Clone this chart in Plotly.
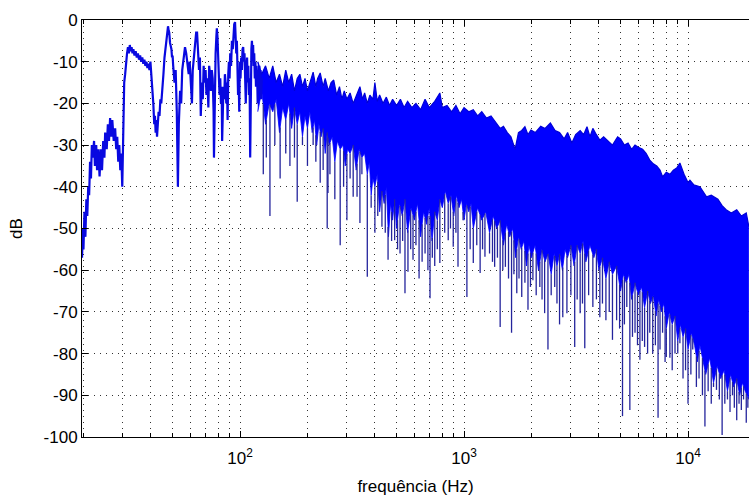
import numpy as np
import plotly.graph_objects as go

# ---------------- data ----------------
# low-frequency part of the spectrum (single trace path), Hz / dB
low_f = [19.7, 19.9, 20.0, 20.2, 20.4, 20.6, 20.8, 21.0, 21.2, 21.4, 21.6, 21.8, 22.0, 22.3, 22.5,
         22.8, 23.0, 23.3, 23.6, 23.9, 24.2, 24.5, 24.8, 25.0, 25.4, 25.7, 26.0, 26.3, 26.6, 26.9,
         27.3, 27.7, 28.0, 28.3, 28.6, 28.9, 29.2, 29.5, 29.8,
         30.0, 30.2, 30.4, 30.7, 31.0, 31.3, 31.6, 31.9, 32.2, 32.5, 32.8, 33.1, 33.4, 33.8, 34.2,
         34.6, 35.0, 35.4, 35.8, 36.2, 36.6, 37.0, 37.4, 37.8, 38.2, 38.6, 39.0, 39.4, 39.8, 40.2,
         40.6, 41.0, 41.4, 41.7, 42.0, 42.3, 42.6, 42.9, 43.3, 43.7, 44.1, 44.5, 45.0, 45.5, 46.0,
         46.5, 47.0, 47.4, 47.7, 48.0, 48.3, 48.7, 49.0, 49.4, 49.7, 50.0,
         50.3, 51.0, 51.6, 52.2, 52.8, 53.3, 54.0, 54.6, 55.2, 56.0, 56.8, 57.5, 58.2, 59.0, 59.6,
         60.3, 61.0, 61.5, 62.2, 63.0, 63.7, 64.3, 65.0, 65.6, 66.2, 66.8, 67.5, 68.2, 68.8, 69.5,
         70.2, 70.8, 71.5, 72.2, 72.8, 73.5, 74.2, 74.8, 75.5, 76.2, 76.5, 77.2, 77.8, 78.4, 78.8,
         79.3, 79.8, 80.4, 81.0, 81.6, 82.2, 82.8, 83.2, 83.8, 84.4, 85.0, 85.6, 86.2, 86.8, 87.4,
         88.0, 88.6, 89.2, 89.8, 90.4, 91.2, 92.0, 92.8, 93.5, 94.2, 95.0, 95.6, 96.2, 96.8, 97.4,
         98.0, 98.6, 99.2, 99.8, 100.5, 101.2, 101.9, 102.6, 103.3, 104.0, 104.7, 105.4, 106.1,
         106.8, 107.5, 108.2, 108.9, 109.6, 110.3, 111.0, 111.7, 112.4, 113.0, 113.7, 114.4, 115.0,
         115.7, 116.4, 117.1, 117.8, 118.5, 119.2, 119.9, 120.6, 121.3, 122.0, 122.7, 123.4, 124.2,
         125.0]
low_db = [-57, -50, -55, -46, -52, -43, -47, -40, -42, -34, -38, -30, -33, -29, -35,
          -30, -36, -31, -37.5, -31, -36, -29, -33, -27, -31, -25, -29, -23.5, -28, -24,
          -29, -26, -31, -28, -34, -30, -36, -32, -40,
          -31, -22, -15, -13, -10, -8, -6.5, -8, -6, -7.5, -6.5, -8, -7, -8.5, -7.5,
          -9, -8, -9.5, -8.5, -10, -9, -10.5, -9.5, -11, -10, -11.5, -10.5, -12, -10, -13,
          -17, -20, -25, -23, -27, -24, -28, -25, -22, -23, -19, -20, -15, -13, -9,
          -7, -4, -3, -1.5, -2.5, -3, -5.5, -6, -7, -9, -8.5,
          -11, -15, -12, -22, -40, -25, -17, -20, -12, -9, -6.5, -8, -11, -13, -10,
          -17, -20, -12, -9, -5, -3, -3, -8, -12, -9, -23, -15, -19, -11, -15,
          -12, -18, -14, -21, -11, -13, -17, -12, -14, -22, -33, -16, -8, -4, -2,
          -4, -9, -12, -18, -14, -20, -16, -29, -22, -16, -19, -13, -15, -20, -15,
          -24, -13, -10, -14, -8, -11, -5, -7, -2, -1, -0.5, -3, -8, -5, -12,
          -18, -14, -22, -10, -14, -9, -12, -7, -6.5, -10, -8, -14, -20,
          -12, -9, -15, -11, -18, -14, -33, -12, -7, -5, -8, -6, -11,
          -8, -14, -10, -16, -11, -13, -20, -12, -17, -11, -15, -12, -19,
          -14]

# upper envelope of the dense part
top_f = [120, 125, 130, 135, 140, 145, 150, 155, 160, 165, 170, 175, 180, 185, 190, 195, 200, 205,
         212, 218, 222, 228, 235, 240, 248, 255, 262, 270, 278, 285, 292, 300, 310, 320, 330, 343,
         352, 360, 370, 380, 392, 400, 410, 420, 435, 450, 465, 480, 500, 520, 540, 560, 585, 610,
         640, 670, 700, 740, 780, 800, 840, 880, 920, 960, 1000, 1050, 1100, 1150, 1200, 1260, 1320,
         1400, 1450, 1500, 1560, 1620, 1690, 1750, 1810, 1870, 1930, 1990, 2080, 2200, 2300, 2430,
         2550, 2670, 2800, 2900, 3030, 3150, 3300, 3420, 3540, 3650, 3760, 3900, 4040, 4200, 4400,
         4600, 4850, 5000, 5200, 5400, 5600, 5800, 6000, 6270, 6500, 6750, 7000, 7250, 7500, 7700,
         8000, 8300, 8600, 8900, 9200, 9600, 10000, 10200, 10600, 11300, 12100, 12700, 13600,
         14200, 14800, 15600, 16500, 17300, 18200, 18700]
top_db = [-10, -13, -11, -14, -11, -15, -13, -16, -12, -15, -13, -17, -14, -13, -16, -14, -17, -15,
          -12.5, -16, -14, -12.7, -16, -14, -17, -15, -14.4, -18, -16, -19, -17, -19, -17.5, -20, -18, -16,
          -19, -17.5, -20, -18, -19, -15, -19.5, -18, -20, -18.5, -20.5, -19, -20.5, -19, -21, -19.5, -21, -20,
          -21.5, -19, -21, -19.5, -17.5, -21, -20.5, -22, -20.5, -22.5, -21, -22, -21.5, -23, -22, -23.5, -23,
          -25, -26, -25.5, -27, -28, -31, -27, -26.5, -25.6, -27.5, -26.4, -27, -25.5, -26, -24.7,
          -26.5, -27, -28.5, -27, -29.5, -27.5, -26.5, -27.5, -25.6, -28, -26, -27.5, -28.8, -28, -29,
          -30, -28, -28.5, -30, -29.5, -31, -30, -30.5, -31, -32, -33.6, -34.5, -35, -36, -37.6,
          -36.5, -37, -36, -35.5, -34.3, -37, -39, -38.4, -39.5, -40, -42.4, -42, -43,
          -44.5, -45.5, -46.3, -45.5, -47, -46.3, -49.6]

# lower edge of the solid body (ragged)
bot_f = [120, 125, 130, 135, 140, 145, 150, 155, 160, 165, 170, 175, 180, 185, 190, 195, 200, 205,
         210, 215, 220, 225, 230, 235, 240, 245, 250, 258, 265, 272, 280, 288, 295, 302, 310, 320,
         330, 340, 350, 360, 370, 378, 385, 392, 400, 410, 420, 430, 440, 450, 460, 470, 480, 490,
         500, 515, 530, 545, 560, 580, 600, 620, 640, 660, 680, 700, 720, 740, 760, 780, 800, 825,
         850, 875, 900, 925, 950, 975, 1000, 1025, 1050, 1075, 1100, 1150, 1200, 1250, 1300, 1350,
         1400, 1450, 1500, 1550, 1600, 1650, 1700, 1750, 1800, 1850, 1900, 1950, 2000, 2075, 2150,
         2225, 2300, 2375, 2450, 2525, 2600, 2675, 2750, 2825, 2900, 3000, 3100, 3200, 3300, 3400,
         3500, 3650, 3800, 3900, 4000, 4150, 4300, 4450, 4600, 4800, 5000, 5150, 5300, 5450, 5600,
         5800, 6000, 6200, 6400, 6600, 6800, 7000, 7200, 7400, 7600, 7800, 8000, 8250, 8500, 8750,
         9000, 9250, 9500, 9750, 10000, 10350, 10700, 11000, 11300, 12000, 12500, 13000, 13500,
         14000, 14500, 15000, 15500, 16000, 16500, 17000, 17500, 18000, 18700]
bot_db = [-22, -17, -25, -20, -22, -19, -27, -21, -24, -20, -26, -21, -25, -22, -28, -23, -26, -22,
          -27, -24, -30, -25, -28, -26, -32, -27, -30, -28, -34, -29, -31, -30, -35, -31, -32, -30,
          -36, -31, -33, -32, -37, -34, -42, -38, -40, -37, -46, -41, -44, -40, -52, -44, -48, -43,
          -50, -44, -47, -43, -51, -45, -48, -44, -52, -46, -49, -45, -53, -46, -48, -43, -45, -41,
          -44, -42, -47, -42, -45, -43, -48, -44, -46, -44, -50, -45, -48, -46, -51, -47,
          -50, -48, -54, -49, -52, -50, -57, -52, -55, -53, -59, -54, -57, -54, -60,
          -55, -58, -56, -61, -56, -59, -56, -60, -55, -57, -54, -59, -54, -56, -53,
          -58, -54, -57, -55, -60, -57, -62, -58, -61, -59, -65, -61, -63, -61, -67,
          -63, -66, -64, -69, -65, -68, -66, -71, -67, -70, -68, -74, -70, -73, -71,
          -77, -73, -76, -74, -79, -75, -78, -82, -78, -85, -81, -87, -83,
          -86, -84, -89, -85, -88, -86, -90, -87, -89, -91]

# deep individual notches
spike_f = [127, 131, 136, 143, 151, 160, 167, 175, 180, 190, 200, 212, 218, 228, 235, 245, 247, 252,
           265, 280, 290, 300, 310, 320, 333, 343, 350, 370, 385, 400, 412, 430, 445, 458, 475, 490,
           505, 518, 532, 545, 562, 578, 592, 610, 630, 650, 670, 690, 705, 722, 740, 760, 780, 820,
           850, 870, 895, 920, 940, 990, 1030, 1065, 1100, 1140, 1180, 1210, 1240, 1300, 1340, 1370,
           1410, 1450, 1490, 1530, 1580, 1630, 1670, 1720, 1760, 1810, 1870, 1930, 1980, 2030, 2100,
           2180, 2230, 2290, 2370, 2450, 2540, 2600, 2670, 2760, 2880, 3000, 3120, 3200, 3300, 3380,
           3460, 3600, 3760, 3900, 4040, 4150, 4300, 4450, 4600, 4800, 4950, 5100, 5200, 5330, 5500,
           5650, 5800, 5950, 6100, 6250, 6400, 6600, 6750, 6960, 7150, 7350, 7500, 7700, 7900, 8000,
           8300, 8500, 8750, 9000, 9200, 9500, 9750, 10000, 10300, 10500, 10900, 11200, 11600, 11900,
           12300, 12700, 13000, 13400, 13800, 14200, 14600, 15000, 15400, 15800, 16100, 16500, 16900,
           17300, 17700, 18200, 18500]
spike_db = [-37, -33, -47, -30, -38, -32, -35, -33, -43.6, -30, -35, -30, -34, -39, -36, -50, -41.5, -37,
            -43, -54, -40, -48, -38, -42.4, -42.4, -48.7, -37, -61.6, -45, -51, -47, -49.6, -51, -57.5, -53, -52.8,
            -55, -56, -53, -65.5, -60.4, -55, -57.5, -54, -62, -58, -56, -60, -66.7, -57, -59, -55, -58.3, -51,
            -52.8, -50, -54.4, -51, -59.2, -48, -66.4, -55, -58.3, -54, -60.7, -55, -56.8, -56, -58, -59.2,
            -57, -73.6, -60, -59.2, -62, -75, -61, -65.5, -62, -66.4, -63, -69.5, -64, -62.4, -66,
            -64, -67, -70.3, -79, -66, -64, -68, -73, -71.3, -70.3, -66, -78.4, -67, -70.3, -68,
            -78.7, -66, -68.8, -67, -71.3, -68, -72, -70, -76.7, -72, -74, -95, -73, -68.8, -93.5,
            -76, -75, -78, -81.5, -77, -78.4, -80, -75, -80, -78, -95.4, -79, -75, -82, -80.8,
            -81, -84, -80, -80, -77.5, -86, -84, -92, -85, -79, -88, -86, -90, -97.5,
            -89, -92, -88, -88.7, -91, -99.5, -92, -91, -94, -90, -93, -96, -92,
            -93.5, -91, -96.6, -93]

major_x = [100, 1000, 10000]
major_x_text = ["10<sup>2</sup>", "10<sup>3</sup>", "10<sup>4</sup>"]
minor_x = [20, 30, 40, 50, 60, 70, 80, 90, 200, 300, 400, 500, 600, 700, 800, 900,
           2000, 3000, 4000, 5000, 6000, 7000, 8000, 9000]
y_ticks = [0, -10, -20, -30, -40, -50, -60, -70, -80, -90, -100]
y_text = ["0", "-10", "-20", "-30", "-40", "-50", "-60", "-70", "-80", "-90", "-100"]

# ---------------- figure ----------------
BLUE = "#0000ff"
fig = go.Figure()

# solid body: lower edge then upper edge filled to it
fig.add_trace(go.Scatter(x=bot_f, y=bot_db, mode="lines",
                         line=dict(color=BLUE, width=0.8), hoverinfo="skip", showlegend=False))
fig.add_trace(go.Scatter(x=top_f, y=top_db, mode="lines", fill="tonexty", fillcolor=BLUE,
                         line=dict(color="#0000d8", width=1.2), hoverinfo="skip", showlegend=False))

# notches hanging below the body
lf = np.log10(np.array(bot_f, dtype=float))
sx, sy = [], []
for f, d in zip(spike_f, spike_db):
    start = float(np.interp(np.log10(f), lf, bot_db))
    sx += [f, f, None]
    sy += [start, d, None]
fig.add_trace(go.Scatter(x=sx, y=sy, mode="lines", line=dict(color="#24249c", width=1.3),
                         hoverinfo="skip", showlegend=False))

# low-frequency path
fig.add_trace(go.Scatter(x=low_f, y=low_db, mode="lines", line=dict(color="#0808e0", width=2.2),
                         hoverinfo="skip", showlegend=False))

FONT = "Liberation Sans, Arial, sans-serif"
grid_dash = "1px,5px"
GRID = "#333"
fig.update_layout(
    width=749, height=497,
    margin=dict(l=82, r=0, t=20, b=60),
    paper_bgcolor="white", plot_bgcolor="white",
    font=dict(family=FONT, size=17, color="black"),
    showlegend=False,
)
fig.update_xaxes(
    type="log", range=[np.log10(19.7), 4.2723],
    showline=True, linecolor="black", linewidth=1, mirror="ticks",
    ticks="inside", ticklen=6, tickcolor="black",
    tickmode="array", tickvals=major_x, ticktext=major_x_text,
    ticklabelstandoff=6,
    showgrid=True, gridcolor=GRID, gridwidth=1, griddash=grid_dash,
    minor=dict(tickmode="array", tickvals=minor_x, ticks="inside", ticklen=4, tickcolor="black",
               showgrid=True, gridcolor=GRID, gridwidth=1, griddash=grid_dash),
    zeroline=False,
    title=dict(text="frequência (Hz)", standoff=12, font=dict(size=17)),
)
fig.update_yaxes(
    range=[-100, 0],
    showline=True, linecolor="black", linewidth=1, mirror=False,
    ticks="inside", ticklen=6, tickcolor="black",
    tickmode="array", tickvals=y_ticks, ticktext=y_text,
    showgrid=True, gridcolor=GRID, gridwidth=1, griddash=grid_dash,
    zeroline=False,
    title=dict(text="dB", standoff=16, font=dict(size=17)),
)

fig.write_html("out.html", config={"displayModeBar": False})
